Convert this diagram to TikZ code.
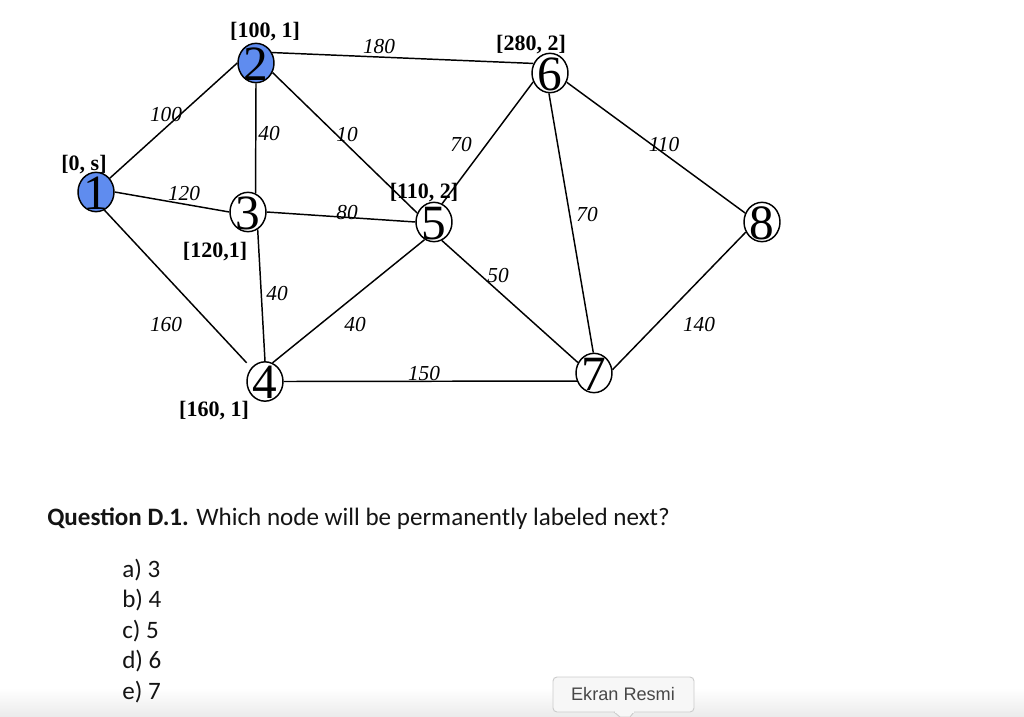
\documentclass[tikz,border=0pt]{standalone}
\usetikzlibrary{shapes.geometric}
\usepackage{fontspec}
\setmainfont{Liberation Serif}
\newfontfamily\qfont{Carlito}
\newfontfamily\tipfont{Liberation Sans}
\definecolor{nodeblue}{HTML}{5F8CEF}
\newcommand{\dgt}[1]{\makebox[0pt]{\smash{\raisebox{-0.35em}{#1}}}}
\tikzset{
  gnode/.style={ellipse,draw=black,line width=1.1pt,minimum width=27pt,minimum height=29.5pt,inner sep=0pt,font=\fontsize{37}{37}\selectfont},
  visited/.style={gnode,fill=nodeblue},
  edge/.style={draw=black,line width=1.1pt},
  weight/.style={font=\fontsize{16}{16}\selectfont\itshape,inner sep=0pt},
  tag/.style={font=\fontsize{16.5}{17}\selectfont\bfseries,inner sep=0pt},
  qtext/.style={font=\fontsize{18.8}{20}\selectfont\qfont,text=black!92,inner sep=0pt,anchor=west}
}
\begin{document}
\begin{tikzpicture}[x=0.75pt,y=-0.75pt]
\useasboundingbox (0,0) rectangle (1024,717);
\fill[white] (0,0) rectangle (1024,717);
\shade[top color=white,bottom color=black!8] (0,688) rectangle (1024,717);
\node[visited] (n1) at (96,192) {\dgt{1}};
\node[visited] (n2) at (256,63) {\dgt{2}};
\node[gnode] (n3) at (248,212) {\dgt{3}};
\node[gnode] (n4) at (265,381.5) {\dgt{4}};
\node[gnode] (n5) at (434,222) {\dgt{5}};
\node[gnode] (n6) at (550,73) {\dgt{6}};
\node[gnode] (n7) at (594,373) {\dgt{7}};
\node[gnode] (n8) at (762,222) {\dgt{8}};
\draw[edge] (n1.45) -- (n2.180);
\draw[edge] (n1.0) -- (n3.180);
\draw[edge,shorten >=5pt] (n1.-65) -- (n4.135);
\draw[edge] (n2.-90) -- (n3.68);
\draw[edge] (n2.-30) -- (n5.152);
\draw[edge] (n2.33) -- (n6.150);
\draw[edge] (n3.-61) -- (n4.90);
\draw[edge] (n3.0) -- (n5.180);
\draw[edge] (n4.68) -- (n5.-118);
\draw[edge] (n4.0) -- (n7.205);
\draw[edge] (n5.66) -- (n6.208);
\draw[edge] (n5.-67) -- (n7.147);
\draw[edge] (n6.-93) -- (n7.92);
\draw[edge] (n6.-29) -- (n8.152);
\draw[edge] (n7.10) -- (n8.212);
\node[weight] (w12) at (166,115) {100};
\node[weight] (w13) at (184,194) {120};
\node[weight] (w14) at (166,325) {160};
\node[weight] (w23) at (269,134) {40};
\node[weight] (w25) at (347,135) {10};
\node[weight] (w26) at (379,47) {180};
\node[weight] (w34) at (277,294) {40};
\node[weight] (w35) at (347,213) {80};
\node[weight] (w45) at (355,325) {40};
\node[weight] (w47) at (424,374) {150};
\node[weight] (w56) at (461,145) {70};
\node[weight] (w57) at (498,276) {50};
\node[weight] (w67) at (587,215) {70};
\node[weight] (w68) at (664,145) {110};
\node[weight] (w78) at (699,325) {140};
\node[tag] (t1) at (84,165) {[0, s]};
\node[tag] (t2) at (265,32) {[100, 1]};
\node[tag] (t3) at (215,252) {[120,1]};
\node[tag] (t4) at (214,411) {[160, 1]};
\node[tag] (t5) at (424,193) {[110, 2]};
\node[tag] (t6) at (531,45) {[280, 2]};
\node[qtext] (q) at (47,519) {\textbf{Question D.1.} Which node will be permanently labeled next?};
\node[qtext] (a) at (122,570) {a) 3};
\node[qtext] (b) at (122,600) {b) 4};
\node[qtext] (c) at (122,631) {c) 5};
\node[qtext] (d) at (122,661) {d) 6};
\node[qtext] (e) at (122,692) {e) 7};
\fill[black!3,draw=black!20,line width=0.7pt,rounded corners=3pt] (553,677) rectangle (694,712);
\fill[black!3,draw=black!20,line width=0.7pt] (614,712) -- (620,717) -- (630,717) -- (634,712);
\fill[black!3] (614.5,711) rectangle (633.5,713);
\node[font=\fontsize{13.6}{14}\selectfont\tipfont,text=black!72,inner sep=0pt] (tip) at (623,694) {Ekran Resmi};
\end{tikzpicture}
\end{document}
